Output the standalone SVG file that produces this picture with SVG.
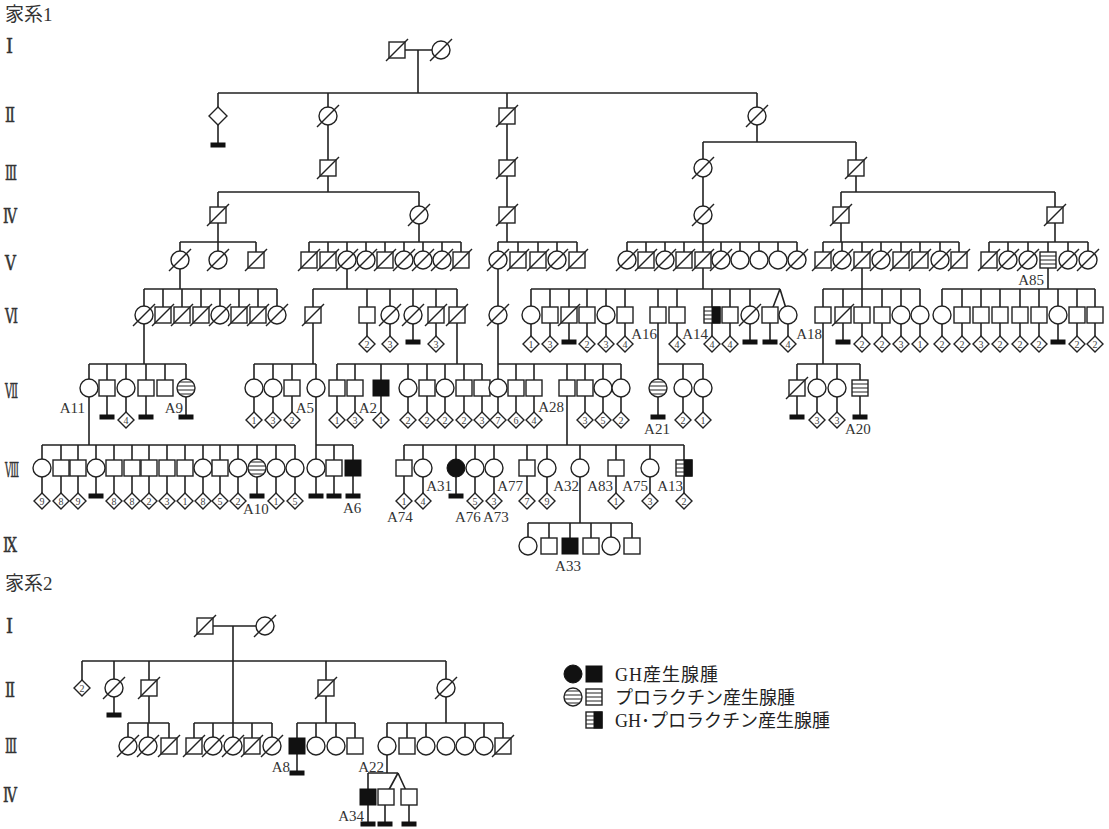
<svg xmlns="http://www.w3.org/2000/svg" width="1109" height="829" viewBox="0 0 1109 829">
<style>
.n{fill:#fff;stroke:#222;stroke-width:1.4}
.f{fill:#111;stroke:#111;stroke-width:1}
.sl{stroke:#222;stroke-width:1.4}
.h{stroke:#222;stroke-width:1.2;fill:none}
.c{fill:none;stroke:#222;stroke-width:1.6}
.lb{font-family:"Liberation Serif",serif;font-size:15px;fill:#333}
.e{text-anchor:end}
.m{text-anchor:middle}
.dn{font-family:"Liberation Serif",serif;font-size:10px;fill:#444;text-anchor:middle}
.rn{font-family:"DejaVu Serif","Liberation Serif",serif;font-size:20px;fill:#333;stroke:#333;stroke-width:0.5}
.tt{font-family:"Liberation Serif","Noto Sans CJK JP",serif;font-size:19px;fill:#333}
.lg{font-family:"Liberation Serif","Noto Sans CJK JP",serif;font-size:18px;fill:#222}
</style>
<defs>
<rect id="S" x="-8" y="-8" width="16" height="16" class="n"/>
<circle id="C" r="9" class="n"/>
<line id="X" x1="-11" y1="11" x2="11" y2="-11" class="sl"/>
<g id="SD"><use href="#S"/><use href="#X"/></g>
<g id="CD"><use href="#C"/><use href="#X"/></g>
<rect id="SF" x="-8" y="-8" width="16" height="16" class="f"/>
<circle id="CF" r="9" class="f"/>
<g id="SH"><use href="#S"/><path d="M-8,-4H8M-8,0H8M-8,4H8" class="h"/></g>
<g id="CH"><use href="#C"/><path d="M-6.7,-6H6.7M-8.8,-2H8.8M-8.8,2H8.8M-6.7,6H6.7" class="h"/></g>
<g id="SHF"><use href="#S"/><rect x="0" y="-8" width="8" height="16" class="f"/><path d="M-8,-4H0M-8,0H0M-8,4H0" class="h"/></g>
<path id="D" d="M0,-8L8,0L0,8L-8,0Z" class="n"/>
<path id="DL" d="M0,-9L9,0L0,9L-9,0Z" class="n"/>
<rect id="B" x="-7" y="-2" width="14" height="4" class="f"/>
</defs>
<rect width="1109" height="829" fill="#fff"/>

<g id="titles">
<text class="tt" x="5" y="21">家系1</text>
<text class="tt" x="5" y="590">家系2</text>
<text class="rn" x="6" y="53" textLength="7" lengthAdjust="spacingAndGlyphs">Ⅰ</text>
<text class="rn" x="5" y="122" textLength="10" lengthAdjust="spacingAndGlyphs">Ⅱ</text>
<text class="rn" x="5" y="180" textLength="12" lengthAdjust="spacingAndGlyphs">Ⅲ</text>
<text class="rn" x="3" y="223" textLength="14" lengthAdjust="spacingAndGlyphs">Ⅳ</text>
<text class="rn" x="5" y="270" textLength="11" lengthAdjust="spacingAndGlyphs">Ⅴ</text>
<text class="rn" x="5" y="323" textLength="13" lengthAdjust="spacingAndGlyphs">Ⅵ</text>
<text class="rn" x="5" y="398" textLength="13" lengthAdjust="spacingAndGlyphs">Ⅶ</text>
<text class="rn" x="5" y="477" textLength="14" lengthAdjust="spacingAndGlyphs">Ⅷ</text>
<text class="rn" x="3" y="552" textLength="14" lengthAdjust="spacingAndGlyphs">Ⅸ</text>
<text class="rn" x="6" y="633" textLength="7" lengthAdjust="spacingAndGlyphs">Ⅰ</text>
<text class="rn" x="5" y="697" textLength="10" lengthAdjust="spacingAndGlyphs">Ⅱ</text>
<text class="rn" x="5" y="753" textLength="12" lengthAdjust="spacingAndGlyphs">Ⅲ</text>
<text class="rn" x="3" y="802" textLength="14" lengthAdjust="spacingAndGlyphs">Ⅳ</text>
</g>

<g id="connectors" class="c">
<path d="M397,50H441M418,50V93M218,93H757M218,93V145M328,93V192M507,93V242M757,93V142M703,142H856M703,142V242M856,142V192M218,192H419M218,192V242M419,192V242M841,192H1055M841,192V242M1055,192V242"/>
<path d="M180,242H256M309,242H461M498,242H577M627,242H797M823,242H959M989,242H1088
M180,242V289M218,242V260M256,242V260
M309,242V260M328,242V260M347,242V289M366,242V260M385,242V260M404,242V260M423,242V260M442,242V260M461,242V260
M498,242V420M518,242V260M538,242V260M557,242V260M577,242V260
M627,242V260M646,242V260M665,242V260M684,242V260M703,242V289M721,242V260M740,242V260M759,242V260M778,242V260M797,242V260
M823,242V260M842,242V260M862,242V289M881,242V260M901,242V260M920,242V260M940,242V260M959,242V260
M989,242V260M1008,242V260M1028,242V260M1048,242V289M1068,242V260M1088,242V260"/>
<path d="M144,289H277M313,289H457M531,289H780M823,289H920M942,289H1095
M144,289V364M163,289V315M182,289V315M201,289V315M220,289V315M239,289V315M258,289V315M277,289V315
M313,289V364M367,289V344M390,289V344M413,289V342M436,289V344M457,289V364
M531,289V344M550,289V344M569,289V342M587,289V344M606,289V344M625,289V344M658,289V417M677,289V344M712,289V344M730,289V344M750,289V342
M780,289L770,315M780,289L788,315M770,315V342M788,315V344
M823,289V364M843,289V342M862,289V344M882,289V344M901,289V344M920,289V344
M942,289V344M962,289V344M981,289V344M1000,289V344M1020,289V344M1039,289V344M1058,289V342M1077,289V344M1095,289V344"/>
<path d="M89,364H186M254,364H316M337,364H482M498,364H621M658,364H703M797,364H860
M89,364V445M107,364V417M126,364V420M146,364V417M165,364V388M186,364V417
M254,364V420M273,364V420M292,364V420M316,364V496
M337,364V420M355,364V420M381,364V420M408,364V420M427,364V420M445,364V420M464,364V420M482,364V420
M516,364V420M534,364V420M567,364V445M585,364V420M603,364V420M621,364V420
M683,364V420M703,364V420
M797,364V417M817,364V420M837,364V420M860,364V417"/>
<path d="M42,445H295M316,445H353M404,445H684
M42,445V501M61,445V501M78,445V501M96,445V496M114,445V501M132,445V501M149,445V501M167,445V501M185,445V501M203,445V501M220,445V501M238,445V501M257,445V496M276,445V501M295,445V501
M334,445V496M353,445V496
M404,445V501M423,445V501M456,445V496M475,445V501M494,445V501M527,445V501M547,445V501M580,445V523M616,445V501M650,445V501M684,445V501
M528,523H632M528,523V546M549,523V546M570,523V546M591,523V546M611,523V546M632,523V546"/>
<path d="M205,626H265M233,626V746M82,661H446M82,661V688M114,661V715M149,661V723M326,661V723M446,661V723
M128,723H169M128,723V746M148,723V746M169,723V746
M194,723H272M194,723V746M213,723V746M252,723V746M272,723V746
M297,723H355M297,723V773M316,723V746M336,723V746M355,723V746
M387,723H503M387,723V773M407,723V746M426,723V746M465,723V746M484,723V746M503,723V746
M368,773H398M368,773V824M398,773L385,797M398,773L409,797M385,797V824M409,797V824"/>
</g>

<g id="family1">
<g id="f1-I-397"><use href="#SD" x="397" y="50"/></g>
<g id="f1-I-441"><use href="#CD" x="441" y="50"/></g>
<g id="f1-II-218"><use href="#DL" x="218" y="116"/></g>
<g id="f1-II-218b"><use href="#B" x="218" y="145"/></g>
<g id="f1-II-328"><use href="#CD" x="328" y="116"/></g>
<g id="f1-II-507"><use href="#SD" x="507" y="116"/></g>
<g id="f1-II-757"><use href="#CD" x="757" y="116"/></g>
<g id="f1-III-328"><use href="#SD" x="328" y="168"/></g>
<g id="f1-III-507"><use href="#SD" x="507" y="168"/></g>
<g id="f1-III-703"><use href="#CD" x="703" y="168"/></g>
<g id="f1-III-856"><use href="#SD" x="856" y="168"/></g>
<g id="f1-IV-218"><use href="#SD" x="218" y="215"/></g>
<g id="f1-IV-419"><use href="#CD" x="419" y="215"/></g>
<g id="f1-IV-507"><use href="#SD" x="507" y="215"/></g>
<g id="f1-IV-703"><use href="#CD" x="703" y="215"/></g>
<g id="f1-IV-841"><use href="#SD" x="841" y="215"/></g>
<g id="f1-IV-1055"><use href="#SD" x="1055" y="215"/></g>

<g id="f1-V-180"><use href="#CD" x="180" y="260"/></g>
<g id="f1-V-218"><use href="#CD" x="218" y="260"/></g>
<g id="f1-V-256"><use href="#SD" x="256" y="260"/></g>
<g id="f1-V-309"><use href="#SD" x="309" y="260"/></g>
<g id="f1-V-328"><use href="#SD" x="328" y="260"/></g>
<g id="f1-V-347"><use href="#CD" x="347" y="260"/></g>
<g id="f1-V-366"><use href="#CD" x="366" y="260"/></g>
<g id="f1-V-385"><use href="#SD" x="385" y="260"/></g>
<g id="f1-V-404"><use href="#CD" x="404" y="260"/></g>
<g id="f1-V-423"><use href="#CD" x="423" y="260"/></g>
<g id="f1-V-442"><use href="#CD" x="442" y="260"/></g>
<g id="f1-V-461"><use href="#SD" x="461" y="260"/></g>
<g id="f1-V-498"><use href="#CD" x="498" y="260"/></g>
<g id="f1-V-518"><use href="#SD" x="518" y="260"/></g>
<g id="f1-V-538"><use href="#SD" x="538" y="260"/></g>
<g id="f1-V-557"><use href="#CD" x="557" y="260"/></g>
<g id="f1-V-577"><use href="#SD" x="577" y="260"/></g>
<g id="f1-V-627"><use href="#CD" x="627" y="260"/></g>
<g id="f1-V-646"><use href="#SD" x="646" y="260"/></g>
<g id="f1-V-665"><use href="#CD" x="665" y="260"/></g>
<g id="f1-V-684"><use href="#SD" x="684" y="260"/></g>
<g id="f1-V-703"><use href="#SD" x="703" y="260"/></g>
<g id="f1-V-721"><use href="#CD" x="721" y="260"/></g>
<g id="f1-V-740"><use href="#C" x="740" y="260"/></g>
<g id="f1-V-759"><use href="#C" x="759" y="260"/></g>
<g id="f1-V-778"><use href="#C" x="778" y="260"/></g>
<g id="f1-V-797"><use href="#CD" x="797" y="260"/></g>
<g id="f1-V-823"><use href="#SD" x="823" y="260"/></g>
<g id="f1-V-842"><use href="#CD" x="842" y="260"/></g>
<g id="f1-V-862"><use href="#SD" x="862" y="260"/></g>
<g id="f1-V-881"><use href="#CD" x="881" y="260"/></g>
<g id="f1-V-901"><use href="#SD" x="901" y="260"/></g>
<g id="f1-V-920"><use href="#SD" x="920" y="260"/></g>
<g id="f1-V-940"><use href="#CD" x="940" y="260"/></g>
<g id="f1-V-959"><use href="#SD" x="959" y="260"/></g>
<g id="f1-V-989"><use href="#SD" x="989" y="260"/></g>
<g id="f1-V-1008"><use href="#CD" x="1008" y="260"/></g>
<g id="f1-V-1028"><use href="#CD" x="1028" y="260"/></g>
<g id="f1-V-1048"><use href="#SH" x="1048" y="260"/><text class="lb e" x="1044" y="285">A85</text></g>
<g id="f1-V-1068"><use href="#CD" x="1068" y="260"/></g>
<g id="f1-V-1088"><use href="#CD" x="1088" y="260"/></g>

<g id="f1-VI-144"><use href="#CD" x="144" y="315"/></g>
<g id="f1-VI-163"><use href="#SD" x="163" y="315"/></g>
<g id="f1-VI-182"><use href="#SD" x="182" y="315"/></g>
<g id="f1-VI-201"><use href="#SD" x="201" y="315"/></g>
<g id="f1-VI-220"><use href="#CD" x="220" y="315"/></g>
<g id="f1-VI-239"><use href="#SD" x="239" y="315"/></g>
<g id="f1-VI-258"><use href="#SD" x="258" y="315"/></g>
<g id="f1-VI-277"><use href="#CD" x="277" y="315"/></g>
<g id="f1-VI-313"><use href="#SD" x="313" y="315"/></g>
<g id="f1-VI-367"><use href="#S" x="367" y="315"/></g>
<g id="f1-VI-390"><use href="#CD" x="390" y="315"/></g>
<g id="f1-VI-413"><use href="#CD" x="413" y="315"/></g>
<g id="f1-VI-436"><use href="#SD" x="436" y="315"/></g>
<g id="f1-VI-457"><use href="#SD" x="457" y="315"/></g>
<g id="f1-VI-498"><use href="#CD" x="498" y="315"/></g>
<g id="f1-VI-531"><use href="#C" x="531" y="315"/></g>
<g id="f1-VI-550"><use href="#S" x="550" y="315"/></g>
<g id="f1-VI-569"><use href="#SD" x="569" y="315"/></g>
<g id="f1-VI-587"><use href="#S" x="587" y="315"/></g>
<g id="f1-VI-606"><use href="#C" x="606" y="315"/></g>
<g id="f1-VI-625"><use href="#S" x="625" y="315"/></g>
<g id="f1-VI-658"><use href="#S" x="658" y="315"/><text class="lb e" x="657" y="339">A16</text></g>
<g id="f1-VI-677"><use href="#S" x="677" y="315"/></g>
<g id="f1-VI-712"><use href="#SHF" x="712" y="315"/><text class="lb e" x="708" y="339">A14</text></g>
<g id="f1-VI-730"><use href="#S" x="730" y="315"/></g>
<g id="f1-VI-750"><use href="#CD" x="750" y="315"/></g>
<g id="f1-VI-770"><use href="#S" x="770" y="315"/></g>
<g id="f1-VI-788"><use href="#C" x="788" y="315"/></g>
<g id="f1-VI-823"><use href="#S" x="823" y="315"/><text class="lb e" x="822" y="339">A18</text></g>
<g id="f1-VI-843"><use href="#SD" x="843" y="315"/></g>
<g id="f1-VI-862"><use href="#S" x="862" y="315"/></g>
<g id="f1-VI-882"><use href="#S" x="882" y="315"/></g>
<g id="f1-VI-901"><use href="#C" x="901" y="315"/></g>
<g id="f1-VI-920"><use href="#C" x="920" y="315"/></g>
<g id="f1-VI-942"><use href="#C" x="942" y="315"/></g>
<g id="f1-VI-962"><use href="#S" x="962" y="315"/></g>
<g id="f1-VI-981"><use href="#S" x="981" y="315"/></g>
<g id="f1-VI-1000"><use href="#S" x="1000" y="315"/></g>
<g id="f1-VI-1020"><use href="#S" x="1020" y="315"/></g>
<g id="f1-VI-1039"><use href="#S" x="1039" y="315"/></g>
<g id="f1-VI-1058"><use href="#C" x="1058" y="315"/></g>
<g id="f1-VI-1077"><use href="#S" x="1077" y="315"/></g>
<g id="f1-VI-1095"><use href="#S" x="1095" y="315"/></g>

<g id="f1-VIc">
<g id="f1-VIc-367"><use href="#D" x="367" y="344"/><text class="dn" x="367" y="347.5">2</text></g>
<g id="f1-VIc-390"><use href="#D" x="390" y="344"/><text class="dn" x="390" y="347.5">3</text></g>
<g id="f1-VIc-413"><use href="#B" x="413" y="342"/></g>
<g id="f1-VIc-436"><use href="#D" x="436" y="344"/><text class="dn" x="436" y="347.5">3</text></g>
<g id="f1-VIc-531"><use href="#D" x="531" y="344"/><text class="dn" x="531" y="347.5">1</text></g>
<g id="f1-VIc-550"><use href="#D" x="550" y="344"/><text class="dn" x="550" y="347.5">3</text></g>
<g id="f1-VIc-569"><use href="#B" x="569" y="342"/></g>
<g id="f1-VIc-587"><use href="#D" x="587" y="344"/><text class="dn" x="587" y="347.5">2</text></g>
<g id="f1-VIc-606"><use href="#D" x="606" y="344"/><text class="dn" x="606" y="347.5">3</text></g>
<g id="f1-VIc-625"><use href="#D" x="625" y="344"/><text class="dn" x="625" y="347.5">4</text></g>
<g id="f1-VIc-677"><use href="#D" x="677" y="344"/><text class="dn" x="677" y="347.5">4</text></g>
<g id="f1-VIc-712"><use href="#D" x="712" y="344"/><text class="dn" x="712" y="347.5">4</text></g>
<g id="f1-VIc-730"><use href="#D" x="730" y="344"/><text class="dn" x="730" y="347.5">4</text></g>
<g id="f1-VIc-750"><use href="#B" x="750" y="342"/></g>
<g id="f1-VIc-770"><use href="#B" x="770" y="342"/></g>
<g id="f1-VIc-788"><use href="#D" x="788" y="344"/><text class="dn" x="788" y="347.5">4</text></g>
<g id="f1-VIc-843"><use href="#B" x="843" y="342"/></g>
<g id="f1-VIc-862"><use href="#D" x="862" y="344"/><text class="dn" x="862" y="347.5">2</text></g>
<g id="f1-VIc-882"><use href="#D" x="882" y="344"/><text class="dn" x="882" y="347.5">2</text></g>
<g id="f1-VIc-901"><use href="#D" x="901" y="344"/><text class="dn" x="901" y="347.5">3</text></g>
<g id="f1-VIc-920"><use href="#D" x="920" y="344"/><text class="dn" x="920" y="347.5">1</text></g>
<g id="f1-VIc-942"><use href="#D" x="942" y="344"/><text class="dn" x="942" y="347.5">2</text></g>
<g id="f1-VIc-962"><use href="#D" x="962" y="344"/><text class="dn" x="962" y="347.5">2</text></g>
<g id="f1-VIc-981"><use href="#D" x="981" y="344"/><text class="dn" x="981" y="347.5">3</text></g>
<g id="f1-VIc-1000"><use href="#D" x="1000" y="344"/><text class="dn" x="1000" y="347.5">2</text></g>
<g id="f1-VIc-1020"><use href="#D" x="1020" y="344"/><text class="dn" x="1020" y="347.5">2</text></g>
<g id="f1-VIc-1039"><use href="#D" x="1039" y="344"/><text class="dn" x="1039" y="347.5">2</text></g>
<g id="f1-VIc-1058"><use href="#B" x="1058" y="342"/></g>
<g id="f1-VIc-1077"><use href="#D" x="1077" y="344"/><text class="dn" x="1077" y="347.5">2</text></g>
<g id="f1-VIc-1095"><use href="#D" x="1095" y="344"/><text class="dn" x="1095" y="347.5">2</text></g>
</g>

<g id="f1-VII-89"><use href="#C" x="89" y="388"/><text class="lb e" x="85" y="413">A11</text></g>
<g id="f1-VII-107"><use href="#S" x="107" y="388"/></g>
<g id="f1-VII-126"><use href="#C" x="126" y="388"/></g>
<g id="f1-VII-146"><use href="#S" x="146" y="388"/></g>
<g id="f1-VII-165"><use href="#S" x="165" y="388"/></g>
<g id="f1-VII-186"><use href="#CH" x="186" y="388"/><text class="lb e" x="183" y="413">A9</text></g>
<g id="f1-VII-254"><use href="#C" x="254" y="388"/></g>
<g id="f1-VII-273"><use href="#C" x="273" y="388"/></g>
<g id="f1-VII-292"><use href="#S" x="292" y="388"/></g>
<g id="f1-VII-316"><use href="#C" x="316" y="388"/><text class="lb e" x="314" y="413">A5</text></g>
<g id="f1-VII-337"><use href="#S" x="337" y="388"/></g>
<g id="f1-VII-355"><use href="#S" x="355" y="388"/></g>
<g id="f1-VII-381"><use href="#SF" x="381" y="388"/><text class="lb e" x="377" y="413">A2</text></g>
<g id="f1-VII-408"><use href="#C" x="408" y="388"/></g>
<g id="f1-VII-427"><use href="#S" x="427" y="388"/></g>
<g id="f1-VII-445"><use href="#C" x="445" y="388"/></g>
<g id="f1-VII-464"><use href="#S" x="464" y="388"/></g>
<g id="f1-VII-482"><use href="#S" x="482" y="388"/></g>
<g id="f1-VII-498"><use href="#C" x="498" y="388"/></g>
<g id="f1-VII-516"><use href="#S" x="516" y="388"/></g>
<g id="f1-VII-534"><use href="#S" x="534" y="388"/></g>
<g id="f1-VII-567"><use href="#S" x="567" y="388"/><text class="lb e" x="564" y="412">A28</text></g>
<g id="f1-VII-585"><use href="#S" x="585" y="388"/></g>
<g id="f1-VII-603"><use href="#C" x="603" y="388"/></g>
<g id="f1-VII-621"><use href="#C" x="621" y="388"/></g>
<g id="f1-VII-658"><use href="#CH" x="658" y="388"/><text class="lb m" x="657" y="434">A21</text></g>
<g id="f1-VII-683"><use href="#C" x="683" y="388"/></g>
<g id="f1-VII-703"><use href="#C" x="703" y="388"/></g>
<g id="f1-VII-797"><use href="#SD" x="797" y="388"/></g>
<g id="f1-VII-817"><use href="#C" x="817" y="388"/></g>
<g id="f1-VII-837"><use href="#C" x="837" y="388"/></g>
<g id="f1-VII-860"><use href="#SH" x="860" y="388"/><text class="lb" x="845" y="434">A20</text></g>

<g id="f1-VIIc">
<g id="f1-VIIc-107"><use href="#B" x="107" y="417"/></g>
<g id="f1-VIIc-126"><use href="#D" x="126" y="420"/><text class="dn" x="126" y="423.5">4</text></g>
<g id="f1-VIIc-146"><use href="#B" x="146" y="417"/></g>
<g id="f1-VIIc-186"><use href="#B" x="186" y="417"/></g>
<g id="f1-VIIc-254"><use href="#D" x="254" y="420"/><text class="dn" x="254" y="423.5">1</text></g>
<g id="f1-VIIc-273"><use href="#D" x="273" y="420"/><text class="dn" x="273" y="423.5">3</text></g>
<g id="f1-VIIc-292"><use href="#D" x="292" y="420"/><text class="dn" x="292" y="423.5">2</text></g>
<g id="f1-VIIc-337"><use href="#D" x="337" y="420"/><text class="dn" x="337" y="423.5">1</text></g>
<g id="f1-VIIc-355"><use href="#D" x="355" y="420"/><text class="dn" x="355" y="423.5">3</text></g>
<g id="f1-VIIc-381"><use href="#D" x="381" y="420"/><text class="dn" x="381" y="423.5">1</text></g>
<g id="f1-VIIc-408"><use href="#D" x="408" y="420"/><text class="dn" x="408" y="423.5">2</text></g>
<g id="f1-VIIc-427"><use href="#D" x="427" y="420"/><text class="dn" x="427" y="423.5">2</text></g>
<g id="f1-VIIc-445"><use href="#D" x="445" y="420"/><text class="dn" x="445" y="423.5">2</text></g>
<g id="f1-VIIc-464"><use href="#D" x="464" y="420"/><text class="dn" x="464" y="423.5">2</text></g>
<g id="f1-VIIc-482"><use href="#D" x="482" y="420"/><text class="dn" x="482" y="423.5">3</text></g>
<g id="f1-VIIc-498"><use href="#D" x="498" y="420"/><text class="dn" x="498" y="423.5">7</text></g>
<g id="f1-VIIc-516"><use href="#D" x="516" y="420"/><text class="dn" x="516" y="423.5">6</text></g>
<g id="f1-VIIc-534"><use href="#D" x="534" y="420"/><text class="dn" x="534" y="423.5">4</text></g>
<g id="f1-VIIc-585"><use href="#D" x="585" y="420"/><text class="dn" x="585" y="423.5">3</text></g>
<g id="f1-VIIc-603"><use href="#D" x="603" y="420"/><text class="dn" x="603" y="423.5">5</text></g>
<g id="f1-VIIc-621"><use href="#D" x="621" y="420"/><text class="dn" x="621" y="423.5">2</text></g>
<g id="f1-VIIc-658"><use href="#B" x="658" y="417"/></g>
<g id="f1-VIIc-683"><use href="#D" x="683" y="420"/><text class="dn" x="683" y="423.5">2</text></g>
<g id="f1-VIIc-703"><use href="#D" x="703" y="420"/><text class="dn" x="703" y="423.5">1</text></g>
<g id="f1-VIIc-797"><use href="#B" x="797" y="417"/></g>
<g id="f1-VIIc-817"><use href="#D" x="817" y="420"/><text class="dn" x="817" y="423.5">3</text></g>
<g id="f1-VIIc-837"><use href="#D" x="837" y="420"/><text class="dn" x="837" y="423.5">3</text></g>
<g id="f1-VIIc-860"><use href="#B" x="860" y="417"/></g>
</g>

<g id="f1-VIII-42"><use href="#C" x="42" y="468"/></g>
<g id="f1-VIII-61"><use href="#S" x="61" y="468"/></g>
<g id="f1-VIII-78"><use href="#S" x="78" y="468"/></g>
<g id="f1-VIII-96"><use href="#C" x="96" y="468"/></g>
<g id="f1-VIII-114"><use href="#S" x="114" y="468"/></g>
<g id="f1-VIII-132"><use href="#S" x="132" y="468"/></g>
<g id="f1-VIII-149"><use href="#S" x="149" y="468"/></g>
<g id="f1-VIII-167"><use href="#S" x="167" y="468"/></g>
<g id="f1-VIII-185"><use href="#S" x="185" y="468"/></g>
<g id="f1-VIII-203"><use href="#C" x="203" y="468"/></g>
<g id="f1-VIII-220"><use href="#S" x="220" y="468"/></g>
<g id="f1-VIII-238"><use href="#C" x="238" y="468"/></g>
<g id="f1-VIII-257"><use href="#CH" x="257" y="468"/><text class="lb" x="243" y="514">A10</text></g>
<g id="f1-VIII-276"><use href="#C" x="276" y="468"/></g>
<g id="f1-VIII-295"><use href="#C" x="295" y="468"/></g>
<g id="f1-VIII-316"><use href="#C" x="316" y="468"/></g>
<g id="f1-VIII-334"><use href="#S" x="334" y="468"/></g>
<g id="f1-VIII-353"><use href="#SF" x="353" y="468"/><text class="lb" x="343" y="513">A6</text></g>
<g id="f1-VIII-404"><use href="#S" x="404" y="468"/><text class="lb" x="387" y="522">A74</text></g>
<g id="f1-VIII-423"><use href="#C" x="423" y="468"/></g>
<g id="f1-VIII-456"><use href="#CF" x="456" y="468"/><text class="lb e" x="452" y="491">A31</text><text class="lb" x="455" y="522">A76</text></g>
<g id="f1-VIII-475"><use href="#C" x="475" y="468"/></g>
<g id="f1-VIII-494"><use href="#C" x="494" y="468"/><text class="lb" x="483" y="522">A73</text></g>
<g id="f1-VIII-527"><use href="#S" x="527" y="468"/><text class="lb e" x="523" y="491">A77</text></g>
<g id="f1-VIII-547"><use href="#C" x="547" y="468"/></g>
<g id="f1-VIII-580"><use href="#C" x="580" y="468"/><text class="lb e" x="579" y="491">A32</text></g>
<g id="f1-VIII-616"><use href="#S" x="616" y="468"/><text class="lb e" x="613" y="491">A83</text></g>
<g id="f1-VIII-650"><use href="#C" x="650" y="468"/><text class="lb e" x="648" y="491">A75</text></g>
<g id="f1-VIII-684"><use href="#SHF" x="684" y="468"/><text class="lb e" x="683" y="491">A13</text></g>

<g id="f1-VIIIc">
<g id="f1-VIIIc-42"><use href="#D" x="42" y="501"/><text class="dn" x="42" y="504.5">9</text></g>
<g id="f1-VIIIc-61"><use href="#D" x="61" y="501"/><text class="dn" x="61" y="504.5">8</text></g>
<g id="f1-VIIIc-78"><use href="#D" x="78" y="501"/><text class="dn" x="78" y="504.5">9</text></g>
<g id="f1-VIIIc-96"><use href="#B" x="96" y="496"/></g>
<g id="f1-VIIIc-114"><use href="#D" x="114" y="501"/><text class="dn" x="114" y="504.5">8</text></g>
<g id="f1-VIIIc-132"><use href="#D" x="132" y="501"/><text class="dn" x="132" y="504.5">8</text></g>
<g id="f1-VIIIc-149"><use href="#D" x="149" y="501"/><text class="dn" x="149" y="504.5">2</text></g>
<g id="f1-VIIIc-167"><use href="#D" x="167" y="501"/><text class="dn" x="167" y="504.5">3</text></g>
<g id="f1-VIIIc-185"><use href="#D" x="185" y="501"/><text class="dn" x="185" y="504.5">1</text></g>
<g id="f1-VIIIc-203"><use href="#D" x="203" y="501"/><text class="dn" x="203" y="504.5">8</text></g>
<g id="f1-VIIIc-220"><use href="#D" x="220" y="501"/><text class="dn" x="220" y="504.5">5</text></g>
<g id="f1-VIIIc-238"><use href="#D" x="238" y="501"/><text class="dn" x="238" y="504.5">2</text></g>
<g id="f1-VIIIc-257"><use href="#B" x="257" y="496"/></g>
<g id="f1-VIIIc-276"><use href="#D" x="276" y="501"/><text class="dn" x="276" y="504.5">1</text></g>
<g id="f1-VIIIc-295"><use href="#D" x="295" y="501"/><text class="dn" x="295" y="504.5">5</text></g>
<g id="f1-VIIIc-316"><use href="#B" x="316" y="496"/></g>
<g id="f1-VIIIc-334"><use href="#B" x="334" y="496"/></g>
<g id="f1-VIIIc-353"><use href="#B" x="353" y="496"/></g>
<g id="f1-VIIIc-404"><use href="#D" x="404" y="501"/><text class="dn" x="404" y="504.5">1</text></g>
<g id="f1-VIIIc-423"><use href="#D" x="423" y="501"/><text class="dn" x="423" y="504.5">4</text></g>
<g id="f1-VIIIc-456"><use href="#B" x="456" y="496"/></g>
<g id="f1-VIIIc-475"><use href="#D" x="475" y="501"/><text class="dn" x="475" y="504.5">5</text></g>
<g id="f1-VIIIc-494"><use href="#D" x="494" y="501"/><text class="dn" x="494" y="504.5">3</text></g>
<g id="f1-VIIIc-527"><use href="#D" x="527" y="501"/><text class="dn" x="527" y="504.5">7</text></g>
<g id="f1-VIIIc-547"><use href="#D" x="547" y="501"/><text class="dn" x="547" y="504.5">9</text></g>
<g id="f1-VIIIc-616"><use href="#D" x="616" y="501"/><text class="dn" x="616" y="504.5">1</text></g>
<g id="f1-VIIIc-650"><use href="#D" x="650" y="501"/><text class="dn" x="650" y="504.5">3</text></g>
<g id="f1-VIIIc-684"><use href="#D" x="684" y="501"/><text class="dn" x="684" y="504.5">2</text></g>
</g>

<g id="f1-IX-528"><use href="#C" x="528" y="546"/></g>
<g id="f1-IX-549"><use href="#S" x="549" y="546"/></g>
<g id="f1-IX-570"><use href="#SF" x="570" y="546"/><text class="lb m" x="568" y="571">A33</text></g>
<g id="f1-IX-591"><use href="#S" x="591" y="546"/></g>
<g id="f1-IX-611"><use href="#C" x="611" y="546"/></g>
<g id="f1-IX-632"><use href="#S" x="632" y="546"/></g>
</g>

<g id="family2">
<g id="f2-I-205"><use href="#SD" x="205" y="626"/></g>
<g id="f2-I-265"><use href="#CD" x="265" y="626"/></g>
<g id="f2-II-82"><use href="#D" x="82" y="688"/><text class="dn" x="82" y="691.5">2</text></g>
<g id="f2-II-114"><use href="#CD" x="114" y="688"/></g>
<g id="f2-II-114b"><use href="#B" x="114" y="715"/></g>
<g id="f2-II-149"><use href="#SD" x="149" y="688"/></g>
<g id="f2-II-326"><use href="#SD" x="326" y="688"/></g>
<g id="f2-II-446"><use href="#CD" x="446" y="688"/></g>
<g id="f2-III-128"><use href="#CD" x="128" y="746"/></g>
<g id="f2-III-148"><use href="#CD" x="148" y="746"/></g>
<g id="f2-III-169"><use href="#SD" x="169" y="746"/></g>
<g id="f2-III-194"><use href="#SD" x="194" y="746"/></g>
<g id="f2-III-213"><use href="#CD" x="213" y="746"/></g>
<g id="f2-III-233"><use href="#CD" x="233" y="746"/></g>
<g id="f2-III-252"><use href="#SD" x="252" y="746"/></g>
<g id="f2-III-272"><use href="#CD" x="272" y="746"/></g>
<g id="f2-III-297"><use href="#SF" x="297" y="746"/><text class="lb e" x="290" y="772">A8</text></g>
<g id="f2-III-297b"><use href="#B" x="297" y="773"/></g>
<g id="f2-III-316"><use href="#C" x="316" y="746"/></g>
<g id="f2-III-336"><use href="#C" x="336" y="746"/></g>
<g id="f2-III-355"><use href="#S" x="355" y="746"/></g>
<g id="f2-III-387"><use href="#C" x="387" y="746"/><text class="lb e" x="384" y="772">A22</text></g>
<g id="f2-III-407"><use href="#S" x="407" y="746"/></g>
<g id="f2-III-426"><use href="#C" x="426" y="746"/></g>
<g id="f2-III-446"><use href="#C" x="446" y="746"/></g>
<g id="f2-III-465"><use href="#C" x="465" y="746"/></g>
<g id="f2-III-484"><use href="#C" x="484" y="746"/></g>
<g id="f2-III-503"><use href="#SD" x="503" y="746"/></g>
<g id="f2-IV-368"><use href="#SF" x="368" y="797"/><text class="lb e" x="364" y="821">A34</text></g>
<g id="f2-IV-385"><use href="#S" x="386" y="797"/></g>
<g id="f2-IV-409"><use href="#S" x="409" y="797"/></g>
<g id="f2-IV-bars"><use href="#B" x="368" y="824"/><use href="#B" x="385" y="824"/><use href="#B" x="409" y="824"/></g>
</g>

<g id="legend">
<g id="lg-gh"><use href="#CF" x="573" y="674"/><use href="#SF" x="594" y="674"/><text class="lg" x="615" y="681" letter-spacing="1">GH産生腺腫</text></g>
<g id="lg-prl"><use href="#CH" x="573" y="697"/><use href="#SH" x="594" y="697"/><text class="lg" x="615" y="704">プロラクチン産生腺腫</text></g>
<g id="lg-both"><use href="#SHF" x="594" y="720"/><text class="lg" x="615" y="727">GH･プロラクチン産生腺腫</text></g>
</g>
</svg>
